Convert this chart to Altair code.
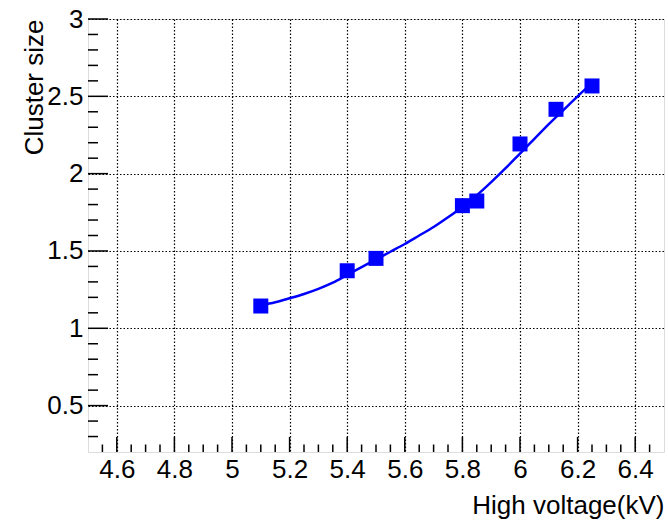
import altair as alt
import pandas as pd

# measured points
hv = [5.1, 5.4, 5.5, 5.8, 5.85, 6.0, 6.125, 6.25]
cluster = [1.144, 1.372, 1.452, 1.793, 1.823, 2.192, 2.416, 2.567]

# fit curve
fit_x = [5.1, 5.15, 5.2, 5.25, 5.3, 5.35, 5.4, 5.45, 5.5, 5.55, 5.6, 5.65,
         5.7, 5.75, 5.8, 5.85, 5.9, 5.95, 6.0, 6.05, 6.1, 6.15, 6.2, 6.25]
fit_y = [1.148, 1.168, 1.194, 1.222, 1.255, 1.295, 1.345, 1.395, 1.445, 1.495,
         1.545, 1.600, 1.655, 1.718, 1.785, 1.860, 1.945, 2.035, 2.130, 2.225,
         2.320, 2.410, 2.500, 2.585]

# axis ticks
x_major = [4.6, 4.8, 5.0, 5.2, 5.4, 5.6, 5.8, 6.0, 6.2, 6.4]
x_minor = [4.55, 4.65, 4.7, 4.75, 4.85, 4.9, 4.95, 5.05, 5.1, 5.15, 5.25, 5.3, 5.35,
           5.45, 5.5, 5.55, 5.65, 5.7, 5.75, 5.85, 5.9, 5.95, 6.05, 6.1, 6.15,
           6.25, 6.3, 6.35, 6.45]
y_major = [0.5, 1.0, 1.5, 2.0, 2.5, 3.0]
y_minor = [0.3, 0.4, 0.6, 0.7, 0.8, 0.9, 1.1, 1.2, 1.3, 1.4, 1.6, 1.7, 1.8, 1.9,
           2.1, 2.2, 2.3, 2.4, 2.6, 2.7, 2.8, 2.9]

W, H = 576, 433
FONT = "Liberation Sans"

xs = alt.Scale(domain=[4.5, 6.5], nice=False, zero=False)
ys = alt.Scale(domain=[0.2, 3.0], nice=False, zero=False)

grid_kw = dict(grid=True, gridDash=[1.5, 2], gridColor="#000000", gridWidth=1.2)

xax = alt.Axis(values=x_major, format="~g", ticks=False, domain=False,
               labelFont=FONT, labelFontSize=26, labelColor="#000000",
               labelBaseline="alphabetic", labelPadding=25, labelFlush=False,
               labelOverlap=False,
               title="High voltage(kV)", titleFont=FONT, titleFontSize=26,
               titleFontWeight="normal", titleColor="#000000",
               titleAlign="right", titleBaseline="alphabetic",
               titleX=W, titleY=61, **grid_kw)
yax = alt.Axis(values=y_major, format="~g", ticks=False, domain=False,
               labelFont=FONT, labelFontSize=26, labelColor="#000000",
               labelBaseline="middle", labelPadding=5, labelFlush=False,
               labelOverlap=False,
               title="Cluster size", titleFont=FONT, titleFontSize=26,
               titleFontWeight="normal", titleColor="#000000",
               titleAngle=270, titleAlign="right", titleBaseline="alphabetic",
               titleX=-46, titleY=0, **grid_kw)

pts = pd.DataFrame({"x": hv, "y": cluster})
fit = pd.DataFrame({"x": fit_x, "y": fit_y})
xmaj = pd.DataFrame({"x": x_major})
xmin = pd.DataFrame({"x": x_minor})
ymaj = pd.DataFrame({"y": y_major})
ymin = pd.DataFrame({"y": y_minor})

tick_color = "#000000"

xmaj_l = alt.Chart(xmaj).mark_rule(color=tick_color, strokeWidth=1.5).encode(
    x=alt.X("x:Q", scale=xs, axis=xax), y=alt.value(H), y2=alt.value(H - 15))
xmin_l = alt.Chart(xmin).mark_rule(color=tick_color, strokeWidth=1.5).encode(
    x=alt.X("x:Q", scale=xs, axis=xax), y=alt.value(H), y2=alt.value(H - 7.5))
ymaj_l = alt.Chart(ymaj).mark_rule(color=tick_color, strokeWidth=1.5).encode(
    y=alt.Y("y:Q", scale=ys, axis=yax), x=alt.value(0), x2=alt.value(20))
ymin_l = alt.Chart(ymin).mark_rule(color=tick_color, strokeWidth=1.5).encode(
    y=alt.Y("y:Q", scale=ys, axis=yax), x=alt.value(0), x2=alt.value(10))

line = alt.Chart(fit).mark_line(color="#0000ff", strokeWidth=2.5,
                                interpolate="monotone").encode(
    x=alt.X("x:Q", scale=xs, axis=xax), y=alt.Y("y:Q", scale=ys, axis=yax))

markers = alt.Chart(pts).mark_point(shape="square", filled=True, size=225,
                                     color="#0000ff", opacity=1).encode(
    x=alt.X("x:Q", scale=xs, axis=xax), y=alt.Y("y:Q", scale=ys, axis=yax))

chart = alt.layer(xmaj_l, xmin_l, ymaj_l, ymin_l, markers, line).properties(
    width=W, height=H,
    autosize=alt.AutoSizeParams(type="none"),
    padding={"left": 88, "top": 19, "right": 4, "bottom": 68},
).configure_view(stroke="#000000", strokeWidth=1.5, fill="white"
).configure(background="white")

chart.save("out.html", embed_options={"renderer": "svg", "actions": False})
